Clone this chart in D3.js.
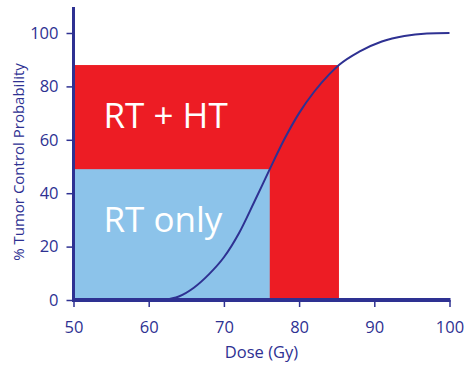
<!DOCTYPE html>
<html>
<head>
<meta charset="utf-8">
<script src="https://cdn.jsdelivr.net/npm/d3@7"></script>
<style>
  body { margin: 0; background: #fff; }
  text { font-family: "Open Sans", sans-serif; }
</style>
</head>
<body>
<div class="chart"></div>
<script>
let FRAME_WIDTH = 473;
let FRAME_HEIGHT = 365;
let NAVY = "#2e3192";

// dose (Gy) / tumor control probability (%)
let doseValues = [62, 64, 66, 68, 70, 72, 74, 76.1, 78, 80, 82, 84, 85.3, 88, 91, 94, 97, 100];
let tcpValues  = [0, 1.3, 4.6, 9.6, 16, 25, 36.5, 49, 60, 70, 78, 84.5, 88, 93, 96.8, 98.9, 99.8, 100];

// shaded regions: [dose end, tcp]
let regionNames = ["RT + HT", "RT only"];
let regionDose = [85.3, 76.1];
let regionTcp = [88, 49];
let regionColors = ["#ed1c24", "#8cc3ea"];

let xTicks = [50, 60, 70, 80, 90, 100];
let yTicks = [0, 20, 40, 60, 80, 100];

let SVG = d3.select(".chart")
            .append("svg")
            .attr("width", FRAME_WIDTH)
            .attr("height", FRAME_HEIGHT);

const X_SCALE = d3.scaleLinear()
                  .domain([50, 100])
                  .range([73.5, 449.5]);

const Y_SCALE = d3.scaleLinear()
                  .domain([0, 100])
                  .range([300, 33]);

// regions (red behind, blue on top)
SVG.selectAll(".region")
   .data(regionNames)
   .enter()
   .append("rect")
     .attr("class", "region")
     .attr("x", X_SCALE(50))
     .attr("y", (d, i) => Y_SCALE(regionTcp[i]))
     .attr("width", (d, i) => X_SCALE(regionDose[i]) - X_SCALE(50))
     .attr("height", (d, i) => Y_SCALE(0) - Y_SCALE(regionTcp[i]))
     .attr("fill", (d, i) => regionColors[i]);

// region labels
SVG.selectAll(".region-label")
   .data(regionNames)
   .enter()
   .append("text")
     .attr("class", "region-label")
     .attr("x", X_SCALE(50) + 30)
     .attr("y", (d, i) => Y_SCALE(regionTcp[i]) + 63)
     .attr("fill", "#fff")
     .style("font-size", "35px")
     .text(d => d);

// dose-response curve
let points = doseValues.map((d, i) => [d, tcpValues[i]]);
let line = d3.line()
             .x(d => X_SCALE(d[0]))
             .y(d => Y_SCALE(d[1]))
             .curve(d3.curveMonotoneX);

SVG.append("path")
   .datum(points)
   .attr("d", line)
   .attr("fill", "none")
   .attr("stroke", NAVY)
   .attr("stroke-width", 2);

// axes
let xAxis = SVG.append("g")
   .attr("transform", "translate(0," + Y_SCALE(0) + ")")
   .call(d3.axisBottom(X_SCALE).tickValues(xTicks).tickSize(7).tickPadding(14).tickSizeOuter(0));

let yAxis = SVG.append("g")
   .attr("transform", "translate(" + X_SCALE(50) + ",0)")
   .call(d3.axisLeft(Y_SCALE).tickValues(yTicks).tickSize(7).tickPadding(8).tickSizeOuter(0));

[xAxis, yAxis].forEach(g => {
  g.select(".domain").remove();
  g.selectAll(".tick line").attr("stroke", NAVY).attr("stroke-width", 1.5);
  g.selectAll(".tick text")
   .attr("fill", NAVY)
   .style("font-family", "'Open Sans', sans-serif")
   .style("font-size", "16.5px");
});

// axis lines drawn heavier, y extends above 100
SVG.append("line")
   .attr("x1", X_SCALE(50)).attr("x2", X_SCALE(50))
   .attr("y1", Y_SCALE(0) + 1.5).attr("y2", 7)
   .attr("stroke", NAVY)
   .attr("stroke-width", 3);

SVG.append("line")
   .attr("x1", X_SCALE(50) - 1.5).attr("x2", X_SCALE(100) + 1)
   .attr("y1", Y_SCALE(0)).attr("y2", Y_SCALE(0))
   .attr("stroke", NAVY)
   .attr("stroke-width", 4);

// axis titles
SVG.append("text")
   .attr("x", (X_SCALE(50) + X_SCALE(100)) / 2)
   .attr("y", 358)
   .attr("text-anchor", "middle")
   .attr("fill", NAVY)
   .style("font-size", "16.5px")
   .text("Dose (Gy)");

SVG.append("text")
   .attr("transform", "translate(24," + 162 + ") rotate(-90)")
   .attr("text-anchor", "middle")
   .attr("fill", NAVY)
   .style("font-size", "15px")
   .text("% Tumor Control Probability");
</script>
</body>
</html>
